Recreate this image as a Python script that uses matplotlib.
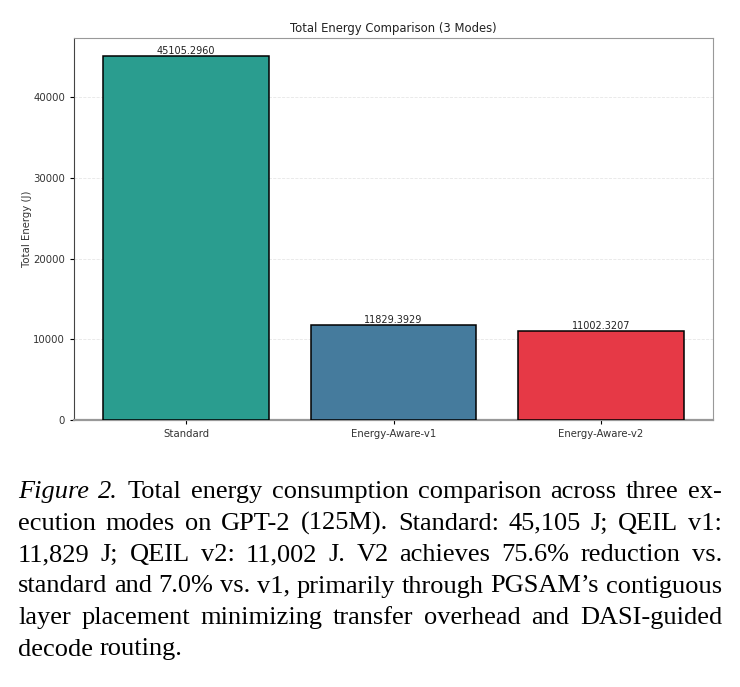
import matplotlib
matplotlib.use("Agg")
import matplotlib.pyplot as plt

# data
modes = ["Standard", "Energy-Aware-v1", "Energy-Aware-v2"]
energy = [45105.2960, 11829.3929, 11002.3207]
bar_colors = ["#2a9d8f", "#457b9d", "#e63946"]

caption_lines = [
    "Figure 2. Total energy consumption comparison across three ex-",
    "ecution modes on GPT-2 (125M). Standard: 45,105 J; QEIL v1:",
    "11,829 J; QEIL v2: 11,002 J. V2 achieves 75.6% reduction vs.",
    "standard and 7.0% vs. v1, primarily through PGSAM\u2019s contiguous",
    "layer placement minimizing transfer overhead and DASI-guided",
    "decode routing.",
]

W, H = 740, 687
fig = plt.figure(figsize=(W / 100, H / 100), dpi=100)
ax = fig.add_axes([74 / W, 1 - 420 / H, (713 - 74) / W, (420 - 38) / H])

x = range(len(modes))
bars = ax.bar(x, energy, width=0.8, color=bar_colors, edgecolor="black",
              linewidth=1.1, zorder=3)
for b, v in zip(bars, energy):
    ax.text(b.get_x() + b.get_width() / 2, v, f"{v:.4f}", ha="center",
            va="bottom", fontsize=7.0, color="#222222")

ax.set_xticks(list(x))
ax.set_xticklabels(modes, fontsize=7.3, color="#333333")
ax.set_ylim(0, max(energy) * 1.05)
ax.set_yticks([0, 10000, 20000, 30000, 40000])
ax.tick_params(axis="y", labelsize=7.3, labelcolor="#333333", length=3)
ax.tick_params(axis="x", length=3)
ax.set_ylabel("Total Energy (J)", fontsize=7.3, color="#333333", labelpad=1)
ax.set_title("Total Energy Comparison (3 Modes)", fontsize=8.4, color="#222222", pad=4)
ax.grid(axis="y", linestyle="--", alpha=0.3, linewidth=0.6, zorder=0)

for side in ["top", "right"]:
    ax.spines[side].set_color("#999999")
ax.spines["bottom"].set_color("#999999")
ax.spines["bottom"].set_linewidth(1.6)
ax.spines["left"].set_color("#444444")

# caption, justified word by word
renderer = fig.canvas.get_renderer()
x_left, x_right = 18, 722
y0, dy = 492, 31.5
fs = 19
for i, line in enumerate(caption_lines):
    words = line.split(" ")
    y = 1 - (y0 + i * dy) / H
    texts = []
    for j, w in enumerate(words):
        style = "italic" if (i == 0 and j < 2) else "normal"
        t = fig.text(0, y, w, fontsize=fs, family="Liberation Serif",
                     style=style, va="center", ha="left")
        texts.append(t)
    widths = [t.get_window_extent(renderer).width for t in texts]
    if i < len(caption_lines) - 1:
        gap = (x_right - x_left - sum(widths)) / (len(words) - 1)
    else:
        gap = fs * 0.25 * 100 / 72
    pos = x_left
    for t, w in zip(texts, widths):
        t.set_x(pos / W)
        pos += w + gap

fig.savefig("out.png", dpi=100)
